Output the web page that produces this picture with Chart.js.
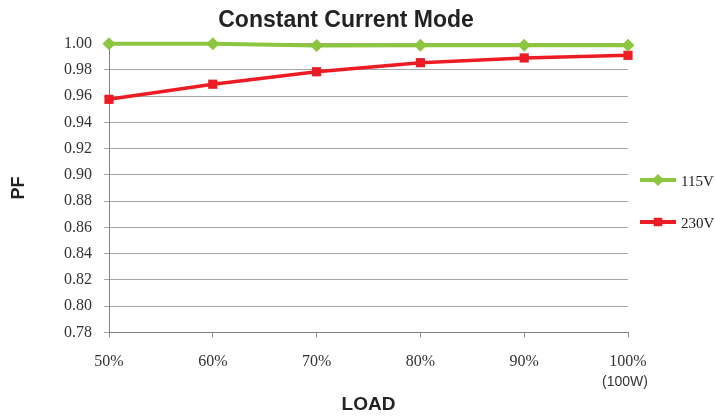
<!DOCTYPE html>
<html>
<head>
<meta charset="utf-8">
<script src="https://cdn.jsdelivr.net/npm/chart.js@4/dist/chart.umd.min.js"></script>
<style>
  html, body { margin: 0; padding: 0; background: #ffffff; }
  #wrap { width: 715px; height: 416px; }
</style>
</head>
<body>
<div id="wrap"><canvas id="pf"></canvas></div>
<script>
// Power factor vs. load, constant current mode
const loadLabels = ['50%', '60%', '70%', '80%', '90%', '100%'];
const loadSubLabels = ['', '', '', '', '', '(100W)'];
const pf115 = [0.9998, 0.9998, 0.9985, 0.9987, 0.9987, 0.9987];
const pf230 = [0.9575, 0.969, 0.9785, 0.9854, 0.989, 0.991];
const yTicks = { min: 0.78, max: 1.00, step: 0.02 };
const chartTitle = 'Constant Current Mode';

const GREEN = '#8cc63f';
const RED = '#ed1c24';
const SERIF = '"Liberation Serif", "DejaVu Serif", serif';
const SANS = '"Liberation Sans", Arial, sans-serif';

// Title, secondary load label and the side legend
const extras = {
  id: 'extras',
  afterDraw(chart) {
    const { ctx, chartArea, scales } = chart;
    ctx.save();
    ctx.fillStyle = '#222';
    ctx.font = 'bold 23px ' + SANS;
    ctx.textAlign = 'center';
    ctx.textBaseline = 'middle';
    ctx.fillText(chartTitle, 346, 21);

    ctx.font = '14px ' + SANS;
    ctx.fillStyle = '#333';
    loadSubLabels.forEach((t, i) => {
      if (t) ctx.fillText(t, scales.x.getPixelForValue(i) - 3, 382);
    });

    const rows = [180, 222];
    chart.data.datasets.forEach((ds, i) => {
      const y = rows[i];
      const x0 = chartArea.right + 12, x1 = chartArea.right + 48;
      ctx.strokeStyle = ds.borderColor;
      ctx.lineWidth = 4;
      ctx.beginPath();
      ctx.moveTo(x0, y);
      ctx.lineTo(x1, y);
      ctx.stroke();
      ctx.fillStyle = ds.pointBackgroundColor;
      Chart.helpers.drawPoint(ctx, { pointStyle: ds.pointStyle, radius: 6, borderWidth: 0 }, (x0 + x1) / 2, y);
      ctx.fillStyle = '#222';
      ctx.font = '15px ' + SERIF;
      ctx.textAlign = 'left';
      ctx.fillText(ds.label, x1 + 5, y + 2);
    });
    ctx.restore();
  }
};

new Chart(document.getElementById('pf'), {
  type: 'line',
  data: {
    labels: loadLabels,
    datasets: [
      {
        label: '115V',
        data: pf115,
        borderColor: GREEN,
        backgroundColor: GREEN,
        pointBackgroundColor: GREEN,
        pointBorderColor: GREEN,
        borderWidth: 4,
        pointStyle: 'rectRot',
        pointRadius: 6.5,
        pointBorderWidth: 0,
        tension: 0,
        clip: false
      },
      {
        label: '230V',
        data: pf230,
        borderColor: RED,
        backgroundColor: RED,
        pointBackgroundColor: RED,
        pointBorderColor: RED,
        borderWidth: 3.5,
        pointStyle: 'rect',
        pointRadius: 6.5,
        pointBorderWidth: 0,
        tension: 0,
        clip: false
      }
    ]
  },
  options: {
    responsive: true,
    maintainAspectRatio: false,
    animation: false,
    layout: { padding: { top: 43.5, right: 87, bottom: 0, left: 0 } },
    plugins: {
      legend: { display: false },
      title: { display: false },
      tooltip: { enabled: false }
    },
    scales: {
      x: {
        type: 'category',
        offset: false,
        grid: { drawOnChartArea: false, drawTicks: true, tickLength: 5, color: '#909090', offset: false },
        border: { color: '#808080', width: 1 },
        ticks: { color: '#333', font: { family: SERIF, size: 16, lineHeight: 1.25 }, padding: 14, maxRotation: 0, autoSkip: false },
        title: { display: true, text: 'LOAD', color: '#222', font: { family: SANS, size: 19, weight: 'bold' }, padding: { top: 0, bottom: 0 } },
        afterFit(scale) { scale.height = 83.5; }
      },
      y: {
        min: yTicks.min,
        max: yTicks.max,
        grid: { color: '#a6a6a6', tickLength: 5, lineWidth: 1 },
        border: { color: '#808080', width: 1 },
        ticks: {
          stepSize: yTicks.step,
          color: '#333',
          font: { family: SERIF, size: 16 },
          padding: 12,
          callback: v => Number(v).toFixed(2)
        },
        title: { display: true, text: 'PF', color: '#222', font: { family: SANS, size: 18, weight: 'bold' }, padding: { top: 8, bottom: 0 } },
        afterFit(scale) { scale.width = 109; }
      }
    }
  },
  plugins: [extras]
});
</script>
</body>
</html>
